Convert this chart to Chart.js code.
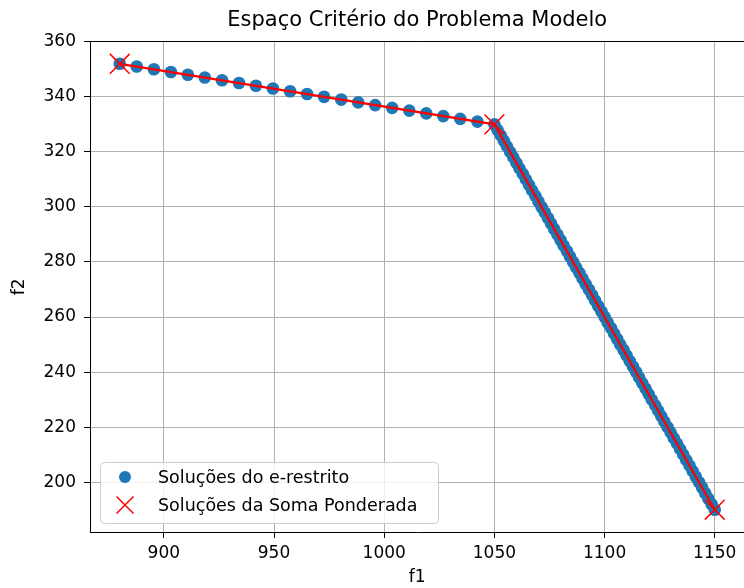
<!DOCTYPE html>
<html>
<head>
<meta charset="utf-8">
<script src="https://cdn.jsdelivr.net/npm/chart.js@4.4.1/dist/chart.umd.min.js"></script>
<style>
  html, body { margin: 0; padding: 0; background: #fff; overflow: hidden; }
  #wrap { width: 760px; height: 588px; }
</style>
</head>
<body>
<div id="wrap"><canvas id="chart" width="760" height="588"></canvas></div>
<script>
// Soluções do e-restrito (f1, f2)
const epsF1 = [
  880.0, 887.7, 895.5, 903.2, 910.9, 918.6, 926.4, 934.1, 941.8, 949.5, 957.3, 965.0,
  972.7, 980.5, 988.2, 995.9, 1003.6, 1011.4, 1019.1, 1026.8, 1034.5, 1042.3, 1050.0,
  1051.4, 1052.9, 1054.3, 1055.7, 1057.1, 1058.6, 1060.0, 1061.4, 1062.9, 1064.3,
  1065.7, 1067.1, 1068.6, 1070.0, 1071.4, 1072.9, 1074.3, 1075.7, 1077.1, 1078.6,
  1080.0, 1081.4, 1082.9, 1084.3, 1085.7, 1087.1, 1088.6, 1090.0, 1091.4, 1092.9,
  1094.3, 1095.7, 1097.1, 1098.6, 1100.0, 1101.4, 1102.9, 1104.3, 1105.7, 1107.1,
  1108.6, 1110.0, 1111.4, 1112.9, 1114.3, 1115.7, 1117.1, 1118.6, 1120.0, 1121.4,
  1122.9, 1124.3, 1125.7, 1127.1, 1128.6, 1130.0, 1131.4, 1132.9, 1134.3, 1135.7,
  1137.1, 1138.6, 1140.0, 1141.4, 1142.9, 1144.3, 1145.7, 1147.1, 1148.6, 1150.0
];
const epsF2 = [
  352, 351, 350, 349, 348, 347, 346, 345, 344, 343, 342, 341,
  340, 339, 338, 337, 336, 335, 334, 333, 332, 331, 330,
  328, 326, 324, 322, 320, 318, 316, 314, 312, 310,
  308, 306, 304, 302, 300, 298, 296, 294, 292, 290,
  288, 286, 284, 282, 280, 278, 276, 274, 272, 270,
  268, 266, 264, 262, 260, 258, 256, 254, 252, 250,
  248, 246, 244, 242, 240, 238, 236, 234, 232, 230,
  228, 226, 224, 222, 220, 218, 216, 214, 212, 210,
  208, 206, 204, 202, 200, 198, 196, 194, 192, 190
];

// Soluções da Soma Ponderada
const wsF1 = [880, 1050, 1150];
const wsF2 = [352, 330, 190];

const xTicks = [900, 950, 1000, 1050, 1100, 1150];
const yTicks = [200, 220, 240, 260, 280, 300, 320, 340, 360];

const titleText = 'Espaço Critério do Problema Modelo';
const xLabel = 'f1';
const yLabel = 'f2';
const legendLabels = ['Soluções do e-restrito', 'Soluções da Soma Ponderada'];

const BLUE = '#1f77b4';
const RED = '#ff0000';
const FONT = '"DejaVu Sans", sans-serif';

const toPoints = (xs, ys) => xs.map((x, i) => ({ x: x, y: ys[i] }));

function drawCross(ctx, x, y, h) {
    ctx.beginPath();
    ctx.moveTo(x - h, y - h);
    ctx.lineTo(x + h, y + h);
    ctx.moveTo(x - h, y + h);
    ctx.lineTo(x + h, y - h);
    ctx.stroke();
}

// title, axis labels, top/right spines and legend box
const decorations = {
    id: 'decorations',
    afterDraw(chart) {
        const ctx = chart.ctx;
        const area = chart.chartArea;
        ctx.save();

        ctx.strokeStyle = '#000';
        ctx.lineWidth = 1;
        ctx.beginPath();
        ctx.moveTo(area.left, area.top);
        ctx.lineTo(area.right, area.top);
        ctx.lineTo(area.right, area.bottom);
        ctx.stroke();

        ctx.fillStyle = '#000';
        ctx.textAlign = 'center';
        ctx.textBaseline = 'middle';
        ctx.font = '21px ' + FONT;
        ctx.fillText(titleText, (area.left + area.right) / 2, 21);

        ctx.font = '17px ' + FONT;
        ctx.fillText(xLabel, (area.left + area.right) / 2, 578);
        ctx.save();
        ctx.translate(20, (area.top + area.bottom) / 2);
        ctx.rotate(-Math.PI / 2);
        ctx.fillText(yLabel, 0, 0);
        ctx.restore();

        // legend
        const bx = 100, by = 462, bw = 338, bh = 61, r = 4;
        ctx.beginPath();
        ctx.roundRect(bx + 0.5, by + 0.5, bw, bh, r);
        ctx.fillStyle = 'rgba(255,255,255,0.8)';
        ctx.fill();
        ctx.strokeStyle = '#cccccc';
        ctx.lineWidth = 1;
        ctx.stroke();

        ctx.fillStyle = BLUE;
        ctx.beginPath();
        ctx.arc(125, 477, 6, 0, Math.PI * 2);
        ctx.fill();

        ctx.strokeStyle = RED;
        ctx.lineWidth = 1.5;
        drawCross(ctx, 125, 505, 8.5);

        ctx.fillStyle = '#000';
        ctx.textAlign = 'left';
        ctx.font = '17.5px ' + FONT;
        ctx.fillText(legendLabels[0], 158, 478);
        ctx.fillText(legendLabels[1], 158, 506);

        ctx.restore();
    }
};

const axisCommon = {
    type: 'linear',
    grid: { color: '#b0b0b0', lineWidth: 1, tickLength: 6, tickColor: '#000', tickWidth: 1 },
    border: { color: '#000', width: 1 },
    ticks: { color: '#000', font: { family: FONT, size: 17 }, callback: v => String(v) }
};

new Chart(document.getElementById('chart'), {
    type: 'scatter',
    data: {
        datasets: [
            {
                label: legendLabels[0],
                data: toPoints(epsF1, epsF2),
                pointStyle: 'circle',
                pointRadius: 6.3,
                backgroundColor: BLUE,
                borderWidth: 0,
                order: 3
            },
            {
                label: 'linha',
                data: toPoints(wsF1, wsF2),
                showLine: true,
                borderColor: RED,
                borderWidth: 2.2,
                pointRadius: 0,
                order: 2
            },
            {
                label: legendLabels[1],
                data: toPoints(wsF1, wsF2),
                pointStyle: 'crossRot',
                pointRadius: 14,
                borderColor: RED,
                borderWidth: 1.5,
                order: 1
            }
        ]
    },
    options: {
        responsive: false,
        animation: false,
        events: [],
        layout: { padding: { top: 41.5, right: 13.5, left: 0, bottom: 0 } },
        plugins: { legend: { display: false }, title: { display: false }, tooltip: { enabled: false } },
        scales: {
            x: {
                ...axisCommon,
                min: 866.5,
                max: 1163.5,
                ticks: { ...axisCommon.ticks, padding: 5 },
                afterBuildTicks: s => { s.ticks = xTicks.map(v => ({ value: v })); },
                afterFit: s => { s.height = 56; }
            },
            y: {
                ...axisCommon,
                min: 181.9,
                max: 360.1,
                ticks: { ...axisCommon.ticks, padding: 8 },
                afterBuildTicks: s => { s.ticks = yTicks.map(v => ({ value: v })); },
                afterFit: s => { s.width = 90; }
            }
        }
    },
    plugins: [decorations]
});
</script>
</body>
</html>
